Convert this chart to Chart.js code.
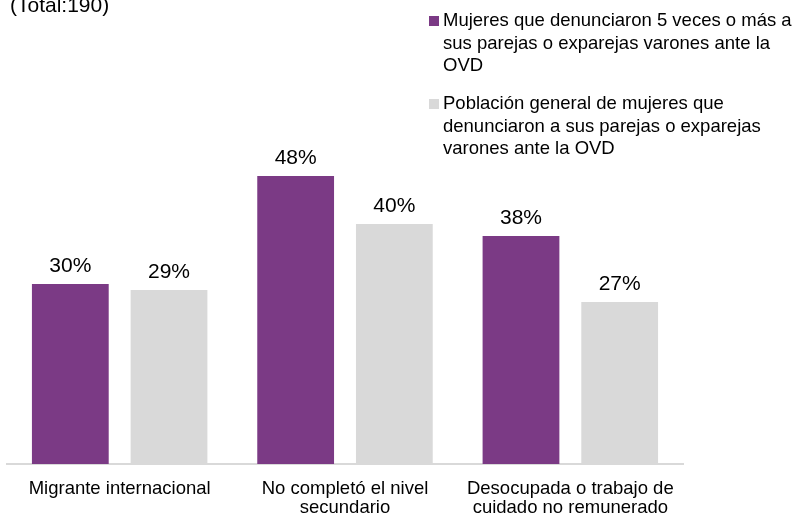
<!DOCTYPE html>
<html>
<head>
<meta charset="utf-8">
<script src="https://cdn.jsdelivr.net/npm/chart.js@4"></script>
<style>
  body { margin: 0; background: #fff; }
</style>
</head>
<body>
<canvas id="chart" width="795" height="515"></canvas>
<script>
const categories = [
  ['Migrante internacional'],
  ['No completó el nivel', 'secundario'],
  ['Desocupada o trabajo de', 'cuidado no remunerado']
];
const denunciantes5 = [30, 48, 38];
const poblacionGeneral = [29, 40, 27];
const seriesNames = [
  ['Mujeres que denunciaron 5 veces o más a', 'sus parejas o exparejas varones ante la', 'OVD'],
  ['Población general de mujeres que', 'denunciaron a sus parejas o exparejas', 'varones ante la OVD']
];
const subtitle = '(Total:190)';

const FONT = '"Liberation Sans", Arial, sans-serif';

// texto de arriba (cortado) y leyenda a la derecha
const extras = {
  id: 'extras',
  afterDraw(chart) {
    const c = chart.ctx;
    c.save();
    c.fillStyle = '#000';
    c.font = '21px ' + FONT;
    c.textAlign = 'left';
    c.textBaseline = 'alphabetic';
    c.fillText(subtitle, 10, 12);

    c.font = '18.5px ' + FONT;
    const tops = [21, 104];
    chart.data.datasets.forEach((ds, i) => {
      c.fillStyle = ds.backgroundColor;
      c.fillRect(429, tops[i] - 5, 10, 10);
      c.fillStyle = '#000';
      c.textBaseline = 'middle';
      seriesNames[i].forEach((line, j) => {
        c.fillText(line, 443, tops[i] + j * 22.5);
      });
    });
    c.restore();
  }
};

// etiquetas de valor encima de las barras
const valueLabels = {
  id: 'valueLabels',
  afterDatasetsDraw(chart) {
    const c = chart.ctx;
    c.save();
    c.fillStyle = '#000';
    c.font = '21px ' + FONT;
    c.textAlign = 'center';
    c.textBaseline = 'alphabetic';
    chart.data.datasets.forEach((ds, i) => {
      chart.getDatasetMeta(i).data.forEach((bar, k) => {
        c.fillText(ds.data[k] + '%', bar.x, bar.y - 12);
      });
    });
    c.restore();
  }
};

new Chart(document.getElementById('chart'), {
  type: 'bar',
  data: {
    labels: categories,
    datasets: [
      {
        label: seriesNames[0].join(' '),
        data: denunciantes5,
        backgroundColor: '#7B3A85',
        categoryPercentage: 0.876,
        barPercentage: 0.778
      },
      {
        label: seriesNames[1].join(' '),
        data: poblacionGeneral,
        backgroundColor: '#D9D9D9',
        categoryPercentage: 0.876,
        barPercentage: 0.778
      }
    ]
  },
  options: {
    responsive: false,
    animation: false,
    layout: { padding: { top: 104, left: 7, right: 112, bottom: -10 } },
    plugins: {
      legend: { display: false },
      tooltip: { enabled: false }
    },
    scales: {
      x: {
        grid: { display: false },
        border: { color: '#D9D9D9', width: 2 },
        ticks: {
          color: '#000',
          padding: 8,
          maxRotation: 0,
          autoSkip: false,
          font: { family: FONT, size: 18.5, lineHeight: 1.0 }
        }
      },
      y: {
        display: false,
        min: 0,
        max: 60
      }
    }
  },
  plugins: [extras, valueLabels]
});
</script>
</body>
</html>
